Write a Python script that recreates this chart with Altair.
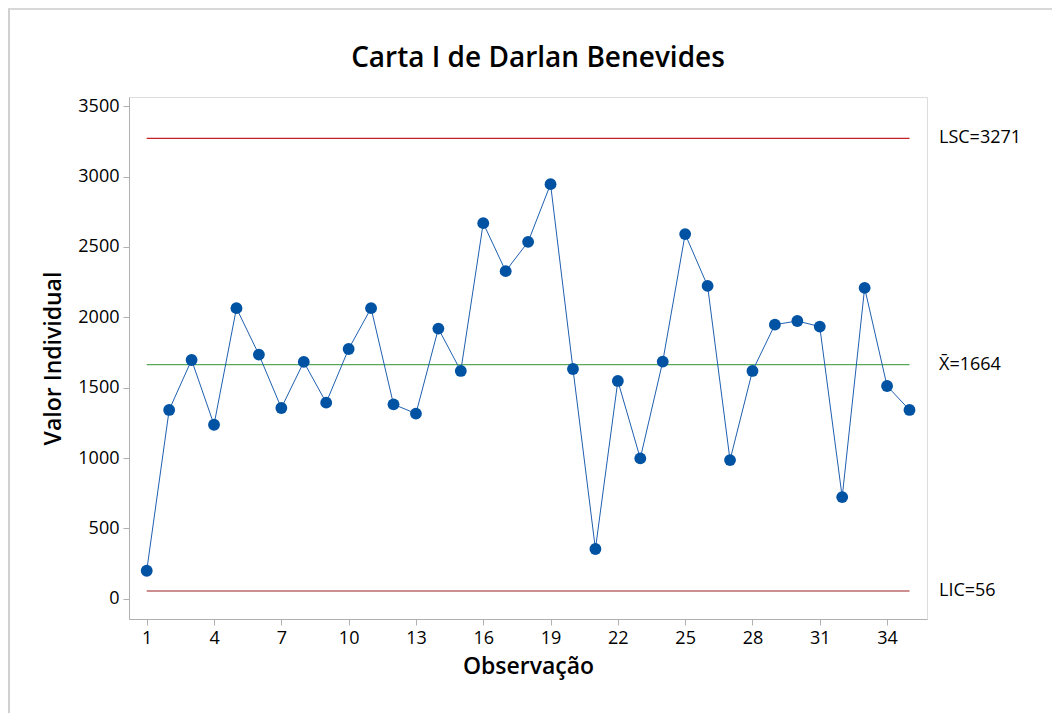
import altair as alt
import pandas as pd

obs = list(range(1, 36))
values = [200, 1342, 1697, 1237, 2065, 1735, 1356, 1683, 1394, 1775,
          2065, 1382, 1316, 1920, 1619, 2669, 2328, 2536, 2946, 1633,
          354, 1548, 998, 1685, 2591, 2223, 986, 1619, 1948, 1974,
          1934, 723, 2209, 1512, 1342]
limit_names = ["LSC", "centro", "LIC"]
limit_values = [3271, 1664, 56]
limit_labels = ["LSC=3271", "X\u0304=1664", "LIC=56"]
limit_colors = ["#c42127", "#5aa85a", "#9c1f23"]
x_ticks = [1, 4, 7, 10, 13, 16, 19, 22, 25, 28, 31, 34]
y_ticks = [0, 500, 1000, 1500, 2000, 2500, 3000, 3500]
title_text = ["Carta I de Darlan Benevides"]

W, H = 798, 522
FONT = "Open Sans"

df = pd.DataFrame({"obs": obs, "valor": values})
lim = pd.DataFrame({"nome": limit_names, "valor": limit_values,
                    "rotulo": limit_labels, "cor": limit_colors,
                    "x0": [1] * 3, "x1": [35] * 3})
tdf = pd.DataFrame({"t": title_text})

xscale = alt.Scale(domain=[0.21, 35.78], nice=False, zero=False)
yscale = alt.Scale(domain=[-143, 3565], nice=False, zero=False)

xaxis = alt.Axis(values=x_ticks, title="Observação", grid=False, format="d",
                 labelFontSize=18, labelFont=FONT, labelColor="black",
                 labelFontWeight=500,
                 titleFontSize=23, titleFont=FONT, titleFontWeight=600,
                 titleColor="black", titlePadding=8,
                 domainColor="#b0b0b0", tickColor="#b0b0b0", tickSize=6,
                 labelPadding=4)
yaxis = alt.Axis(values=y_ticks, title="Valor Individual", grid=False, format="d",
                 labelFontSize=18, labelFont=FONT, labelColor="black",
                 labelFontWeight=500,
                 titleFontSize=23, titleFont=FONT, titleFontWeight=600,
                 titleColor="black", titlePadding=12,
                 domainColor="#b0b0b0", tickColor="#b0b0b0", tickSize=6,
                 labelPadding=4)

rules = alt.Chart(lim).mark_rule(strokeWidth=1.2).encode(
    x=alt.X("x0:Q", scale=xscale, axis=xaxis),
    x2="x1:Q",
    y=alt.Y("valor:Q", scale=yscale, axis=yaxis),
    color=alt.Color("cor:N", scale=None),
)

labels = alt.Chart(lim).mark_text(align="left", baseline="middle", fontSize=18,
                                   font=FONT, color="black").encode(
    x=alt.value(W + 12),
    y=alt.Y("valor:Q", scale=yscale),
    text="rotulo:N",
)

line = alt.Chart(df).mark_line(color="#1f5fb0", strokeWidth=1).encode(
    x=alt.X("obs:Q", scale=xscale),
    y=alt.Y("valor:Q", scale=yscale),
)
points = alt.Chart(df).mark_circle(color="#0052a3", opacity=1, size=140).encode(
    x=alt.X("obs:Q", scale=xscale),
    y=alt.Y("valor:Q", scale=yscale),
)

title = alt.Chart(tdf).mark_text(align="center", baseline="middle", fontSize=28,
                                 font=FONT, fontWeight=600, color="black").encode(
    x=alt.value(409), y=alt.value(-38), text="t:N")

frame_top = alt.Chart(df).mark_rule(color="#d8d8d8", strokeWidth=2).encode(
    x=alt.value(-121), x2=alt.value(W + 140), y=alt.value(-88))
frame_left = alt.Chart(df).mark_rule(color="#d0d0d0", strokeWidth=2).encode(
    x=alt.value(-120.5), y=alt.value(-88), y2=alt.value(H + 120))

chart = alt.layer(frame_top, frame_left, rules, line, points, labels, title).properties(
    width=W, height=H,
    autosize=alt.AutoSizeParams(type="none"),
    padding={"left": 121, "top": 89, "right": 125, "bottom": 100},
).configure_view(stroke="#b0b0b0", strokeWidth=1).configure(background="white")

chart.save("out.html", embed_options={"renderer": "svg", "actions": False})
